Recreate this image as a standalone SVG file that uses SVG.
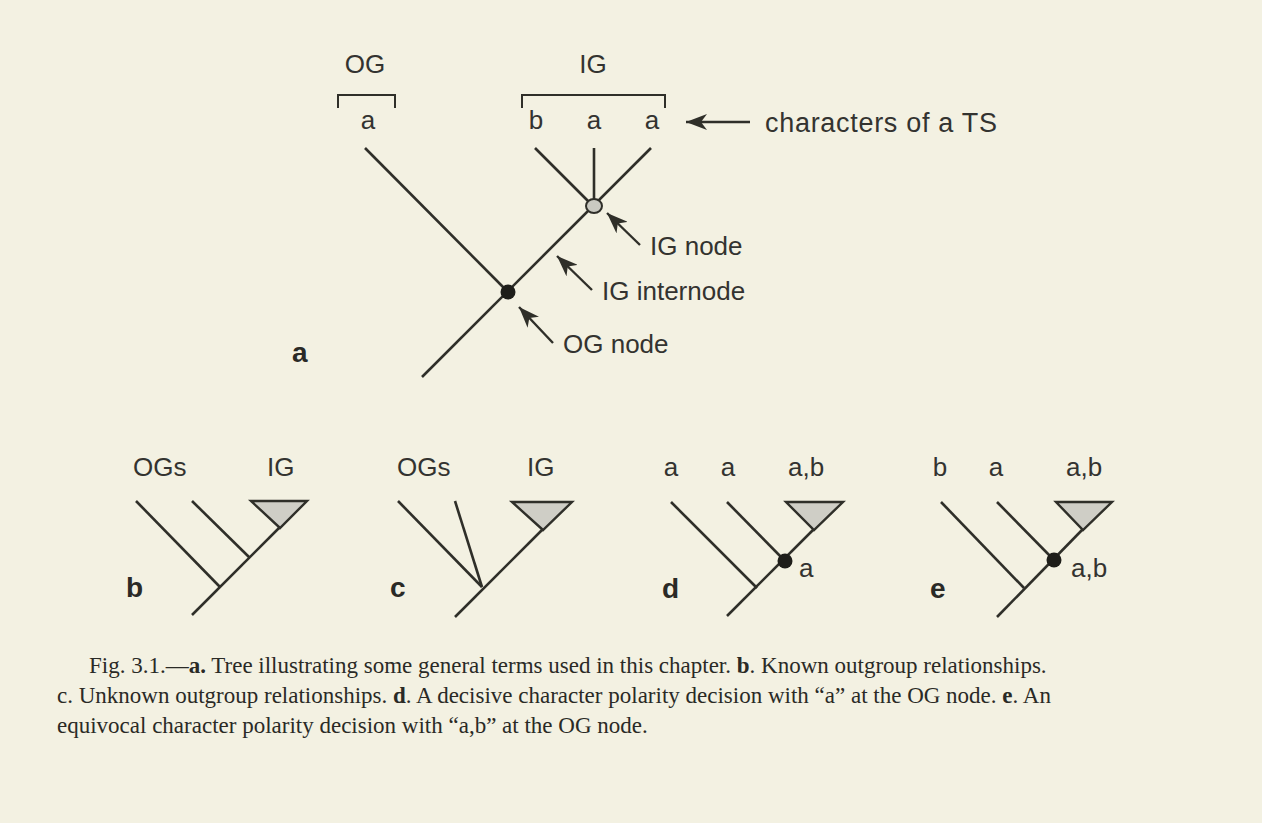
<svg xmlns="http://www.w3.org/2000/svg" width="1262" height="823" viewBox="0 0 1262 823">
<style>
.ln{stroke:#2f2f29;stroke-width:2.6;fill:none;stroke-linecap:butt}
.br{stroke:#2f2f29;stroke-width:2;fill:none}
.t{font-family:"Liberation Sans",Arial,sans-serif;font-size:26px;fill:#333330}
.m{text-anchor:middle}
.p{font-family:"Liberation Sans",Arial,sans-serif;font-size:28px;font-weight:bold;fill:#2a2a26}
.cap{font-family:"Liberation Serif","Times New Roman",serif;font-size:23px;fill:#2a2a26}
.cap tspan.b{font-weight:bold}
.tri{fill:#cfcec6;stroke:#2f2f29;stroke-width:2.4}
.dot{fill:#1e1e1a}
.arr{stroke:#2f2f29;stroke-width:2.4;fill:none}
</style>
<defs>
<marker id="ah" markerUnits="userSpaceOnUse" markerWidth="22" markerHeight="16" refX="21" refY="8" orient="auto">
<path d="M0,0 L21,8 L0,16 L6,8 Z" fill="#2f2f29"/>
</marker>
</defs>
<rect width="1262" height="823" fill="#f3f1e2"/>

<g id="tree-a">
<text class="p" x="292" y="362">a</text>
<g id="a-og-label">
<text class="t m" x="365" y="73">OG</text>
<path class="br" d="M338,108 V95 H395 V108"/>
<text class="t m" x="368" y="129">a</text>
</g>
<g id="a-ig-label">
<text class="t m" x="593" y="73">IG</text>
<path class="br" d="M522,108 V95 H665 V108"/>
<text class="t m" x="536" y="129">b</text>
<text class="t m" x="594" y="129">a</text>
<text class="t m" x="652" y="129">a</text>
</g>
<g id="a-branches">
<line class="ln" x1="365" y1="148" x2="508" y2="292"/>
<line class="ln" x1="535" y1="148" x2="594" y2="207"/>
<line class="ln" x1="594" y1="148" x2="594" y2="207"/>
<line class="ln" x1="651" y1="148" x2="422" y2="377"/>
</g>
<g id="a-ig-node"><ellipse cx="594" cy="206" rx="8" ry="7" fill="#c9c9c1" stroke="#2f2f29" stroke-width="2"/></g>
<g id="a-og-node"><circle class="dot" cx="508" cy="292" r="7.5"/></g>
<g id="a-callouts">
<text class="t" x="765" y="132" style="font-size:27px" textLength="232">characters of a TS</text>
<text class="t" x="650" y="255">IG node</text>
<text class="t" x="602" y="300">IG internode</text>
<text class="t" x="563" y="353">OG node</text>
</g>
</g>

<g id="connectors">
<line class="arr" x1="750" y1="122" x2="686" y2="122" marker-end="url(#ah)"/>
<line class="arr" x1="640" y1="245" x2="607" y2="213" marker-end="url(#ah)"/>
<line class="arr" x1="592" y1="290" x2="557" y2="256" marker-end="url(#ah)"/>
<line class="arr" x1="553" y1="343" x2="519" y2="307" marker-end="url(#ah)"/>
</g>

<g id="tree-b">
<text class="p" x="126" y="597">b</text>
<text class="t" x="133" y="476">OGs</text>
<text class="t" x="267" y="476">IG</text>
<line class="ln" x1="136" y1="501" x2="220" y2="587"/>
<line class="ln" x1="192" y1="501" x2="250" y2="558"/>
<line class="ln" x1="192" y1="615" x2="280" y2="527"/>
<path class="tri" d="M251,501 H307 L280,528 Z"/>
</g>

<g id="tree-c">
<text class="p" x="390" y="597">c</text>
<text class="t" x="397" y="476">OGs</text>
<text class="t" x="527" y="476">IG</text>
<line class="ln" x1="398" y1="501" x2="482" y2="587"/>
<line class="ln" x1="455" y1="501" x2="482" y2="587"/>
<line class="ln" x1="455" y1="617" x2="543" y2="529"/>
<path class="tri" d="M512,502 H572 L543,530 Z"/>
</g>

<g id="tree-d">
<text class="p" x="662" y="598">d</text>
<text class="t m" x="671" y="476">a</text>
<text class="t m" x="728" y="476">a</text>
<text class="t" x="788" y="476">a,b</text>
<line class="ln" x1="671" y1="502" x2="757" y2="588"/>
<line class="ln" x1="727" y1="502" x2="785" y2="561"/>
<line class="ln" x1="727" y1="616" x2="814" y2="529"/>
<path class="tri" d="M786,502 H843 L814,530 Z"/>
<circle class="dot" cx="785" cy="561" r="7.5"/>
<text class="t" x="799" y="577">a</text>
</g>

<g id="tree-e">
<text class="p" x="930" y="598">e</text>
<text class="t m" x="940" y="476">b</text>
<text class="t m" x="996" y="476">a</text>
<text class="t" x="1066" y="476">a,b</text>
<line class="ln" x1="941" y1="502" x2="1024" y2="588"/>
<line class="ln" x1="997" y1="502" x2="1054" y2="560"/>
<line class="ln" x1="997" y1="617" x2="1083" y2="529"/>
<path class="tri" d="M1056,502 H1112 L1083,530 Z"/>
<circle class="dot" cx="1054" cy="560" r="7.5"/>
<text class="t" x="1071" y="577">a,b</text>
</g>

<g id="caption">
<text class="cap" x="89" y="673">Fig. 3.1.—<tspan class="b">a.</tspan> Tree illustrating some general terms used in this chapter. <tspan class="b">b</tspan>. Known  outgroup relationships.</text>
<text class="cap" x="57" y="703">c. Unknown outgroup relationships. <tspan class="b">d</tspan>. A decisive character polarity decision with “a” at the OG node. <tspan class="b">e</tspan>. An</text>
<text class="cap" x="57" y="733">equivocal character polarity decision with “a,b” at the OG node.</text>
</g>
</svg>
